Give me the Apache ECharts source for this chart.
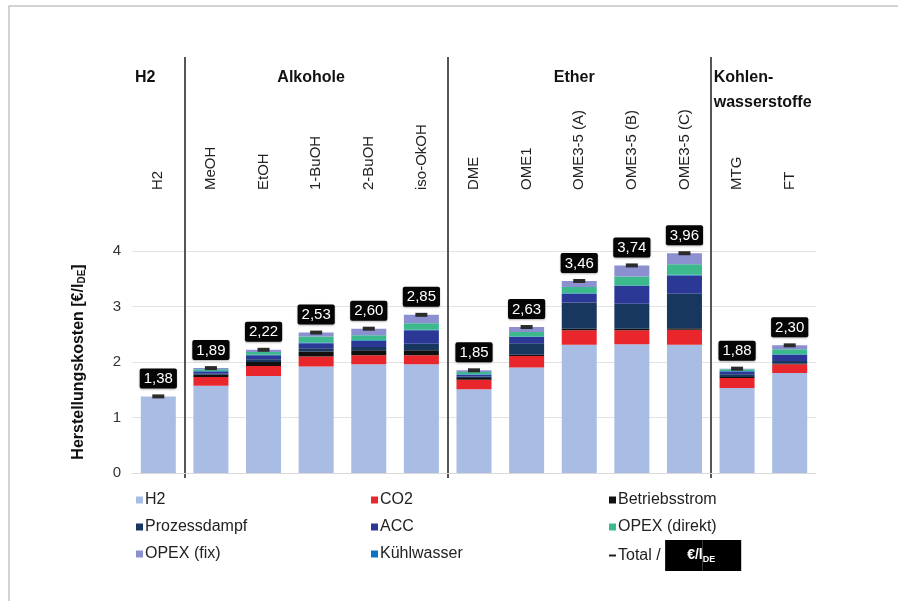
<!DOCTYPE html>
<html>
<head>
<meta charset="utf-8">
<title>Herstellungskosten</title>
<script src="https://cdn.jsdelivr.net/npm/echarts@6/dist/echarts.min.js"></script>
<style>
    html, body { margin: 0; padding: 0; background: #fff; }
    #chart { width: 898px; height: 601px; }
</style>
</head>
<body>
<div id="chart"></div>
<script>
var categories = ['H2', 'MeOH', 'EtOH', '1-BuOH', '2-BuOH', 'iso-OkOH', 'DME', 'OME1', 'OME3-5 (A)', 'OME3-5 (B)', 'OME3-5 (C)', 'MTG', 'FT'];

// Kostenanteile je Kraftstoff in €/l_DE
var h2_vals          = [1.38, 1.57, 1.75, 1.92, 1.96, 1.96, 1.51, 1.90, 2.31, 2.32, 2.31, 1.53, 1.80];
var co2_vals         = [0,    0.16, 0.18, 0.18, 0.16, 0.16, 0.17, 0.21, 0.26, 0.25, 0.27, 0.18, 0.16];
var strom_vals       = [0,    0.04, 0.07, 0.09, 0.09, 0.09, 0.03, 0.02, 0.03, 0.03, 0.03, 0.02, 0.01];
var dampf_vals       = [0,    0.02, 0.05, 0.06, 0.06, 0.12, 0.03, 0.21, 0.47, 0.45, 0.62, 0.05, 0.05];
var acc_vals         = [0,    0.04, 0.07, 0.09, 0.11, 0.24, 0.03, 0.11, 0.16, 0.32, 0.33, 0.05, 0.11];
var kuehl_vals       = [0,    0.01, 0.01, 0.01, 0.01, 0.01, 0.01, 0.01, 0.01, 0.01, 0.01, 0.01, 0.01];
var opex_direkt_vals = [0,    0.03, 0.05, 0.11, 0.09, 0.12, 0.04, 0.08, 0.11, 0.16, 0.19, 0.03, 0.09];
var opex_fix_vals    = [0,    0.02, 0.04, 0.07, 0.12, 0.15, 0.03, 0.09, 0.11, 0.20, 0.20, 0.01, 0.07];
var total_vals       = [1.38, 1.89, 2.22, 2.53, 2.60, 2.85, 1.85, 2.63, 3.46, 3.74, 3.96, 1.88, 2.30];

var y_ticks = [0, 1, 2, 3, 4];

var groups = [
    {name: 'H2', from: 0, to: 0, align: 'left'},
    {name: 'Alkohole', from: 1, to: 5, align: 'center'},
    {name: 'Ether', from: 6, to: 10, align: 'center'},
    {name: 'Kohlen-\nwasserstoffe', from: 11, to: 12, align: 'left'}
];
var separators = [0, 5, 10];   // Linie nach diesem Index

var FONT = "'Liberation Sans', Arial, sans-serif";

var CHART = {
    my_chart: null,
    stack_list: [
        {name: 'H2', data: h2_vals, color: '#a9bce3'},
        {name: 'CO2', data: co2_vals, color: '#e8262b'},
        {name: 'Betriebsstrom', data: strom_vals, color: '#111111'},
        {name: 'Prozessdampf', data: dampf_vals, color: '#17375e'},
        {name: 'ACC', data: acc_vals, color: '#2b3896'},
        {name: 'Kühlwasser', data: kuehl_vals, color: '#0b73c2'},
        {name: 'OPEX (direkt)', data: opex_direkt_vals, color: '#3db98e'},
        {name: 'OPEX (fix)', data: opex_fix_vals, color: '#8c8fd0'}
    ],
    init: function(){
        var _this = this;
        _this.my_chart = echarts.init(document.getElementById('chart'));
        _this.my_chart.setOption(_this.init_option());
        _this.draw_graphic();
    },
    init_series: function(){
        var series = [];
        this.stack_list.forEach(function(s){
            series.push({
                name: s.name,
                type: 'bar',
                stack: 'kosten',
                barWidth: 35,
                data: s.data,
                itemStyle: {color: s.color}
            });
        });
        series.push({
            name: 'Total',
            type: 'scatter',
            data: total_vals,
            symbol: 'rect',
            symbolSize: [12, 4],
            z: 5,
            itemStyle: {color: '#2b2b2b', opacity: 1},
            label: {
                show: true,
                position: 'top',
                distance: 6,
                formatter: function(p){ return p.value.toFixed(2).replace('.', ','); },
                color: '#fff',
                fontFamily: FONT,
                fontSize: 15,
                backgroundColor: '#050505',
                padding: [3, 4, 2, 4],
                borderRadius: 2,
                shadowColor: 'rgba(0,0,0,0.3)',
                shadowBlur: 2,
                shadowOffsetY: 1
            }
        });
        return series;
    },
    legend_col: function(names, left){
        return {
            orient: 'vertical',
            left: left,
            top: 487,
            itemWidth: 7,
            itemHeight: 7,
            itemGap: 11,
            icon: 'rect',
            data: names,
            textStyle: {fontFamily: FONT, fontSize: 16, color: '#222', padding: [0, 0, 0, -3]}
        };
    },
    init_option: function(){
        var _this = this;
        var option = {
            animation: false,
            grid: {left: 132, right: 82, top: 251, bottom: 128},
            legend: [
                _this.legend_col(['H2', 'Prozessdampf', 'OPEX (fix)'], 131),
                _this.legend_col(['CO2', 'ACC', 'Kühlwasser'], 366),
                _this.legend_col(['Betriebsstrom', 'OPEX (direkt)'], 604),
                {
                    left: 604,
                    top: 535,
                    itemWidth: 7,
                    itemHeight: 2,
                    icon: 'rect',
                    data: [{name: 'Total', itemStyle: {color: '#222'}}],
                    formatter: function(){ return '{t|Total /} {e|€/l}{d|DE}'; },
                    textStyle: {
                        fontFamily: FONT, fontSize: 16, color: '#222', padding: [0, 0, 0, -3],
                        rich: {
                            t: {fontFamily: FONT, fontSize: 16, color: '#222'},
                            e: {fontFamily: FONT, fontSize: 14, fontWeight: 'bold', color: '#fff',
                                backgroundColor: '#000', height: 31, lineHeight: 31, padding: [0, 0, 0, 22]},
                            d: {fontFamily: FONT, fontSize: 9, fontWeight: 'bold', color: '#fff',
                                backgroundColor: '#000', height: 23, lineHeight: 23, padding: [8, 26, 0, 0]}
                        }
                    }
                }
            ],
            xAxis: [
                {
                    type: 'category',
                    data: categories,
                    axisLine: {lineStyle: {color: '#d9d9d9'}},
                    axisTick: {show: false},
                    axisLabel: {show: false}
                },
                {
                    type: 'category',
                    position: 'top',
                    data: categories,
                    axisLine: {show: false},
                    axisTick: {show: false},
                    axisLabel: {rotate: -90, margin: 61, fontFamily: FONT, fontSize: 15, color: '#222'}
                }
            ],
            yAxis: {
                type: 'value',
                min: y_ticks[0],
                max: y_ticks[y_ticks.length - 1],
                interval: 1,
                name: '{a|Herstellungskosten [€/l}{b|DE}{a|]}',
                nameLocation: 'middle',
                nameGap: 45,
                nameTextStyle: {
                    rich: {
                        a: {fontFamily: FONT, fontSize: 16, fontWeight: 'bold', color: '#111'},
                        b: {fontFamily: FONT, fontSize: 10, fontWeight: 'bold', color: '#111', padding: [0, 0, -6, 0]}
                    }
                },
                axisLine: {show: false},
                axisTick: {show: false},
                axisLabel: {fontFamily: FONT, fontSize: 15, color: '#333', margin: 11},
                splitLine: {lineStyle: {color: '#e3e3e3'}}
            },
            series: _this.init_series()
        };
        return option;
    },
    draw_graphic: function(){
        var _this = this;
        var px = function(i){ return _this.my_chart.convertToPixel({xAxisIndex: 0}, i); };
        var step = px(1) - px(0);
        var elements = [{
            type: 'rect',
            shape: {x: 9, y: 6, width: 900, height: 600},
            style: {fill: 'none', stroke: '#c4c4c4', lineWidth: 1.5},
            silent: true
        }];
        separators.forEach(function(idx){
            var x = Math.round((px(idx) + px(idx + 1)) / 2);
            elements.push({
                type: 'line',
                shape: {x1: x, y1: 57, x2: x, y2: 478},
                style: {stroke: '#555', lineWidth: 2},
                silent: true
            });
        });
        groups.forEach(function(g){
            var x = g.align == 'left' ? px(g.from) - step / 2 + 3 : (px(g.from) + px(g.to)) / 2 - 5;
            elements.push({
                type: 'text',
                x: x,
                y: 65,
                style: {
                    text: g.name,
                    align: g.align,
                    fontFamily: FONT,
                    fontSize: 16,
                    fontWeight: 'bold',
                    lineHeight: 25,
                    fill: '#111'
                },
                silent: true
            });
        });
        _this.my_chart.setOption({graphic: elements});
    }
};

CHART.init();
</script>
</body>
</html>
